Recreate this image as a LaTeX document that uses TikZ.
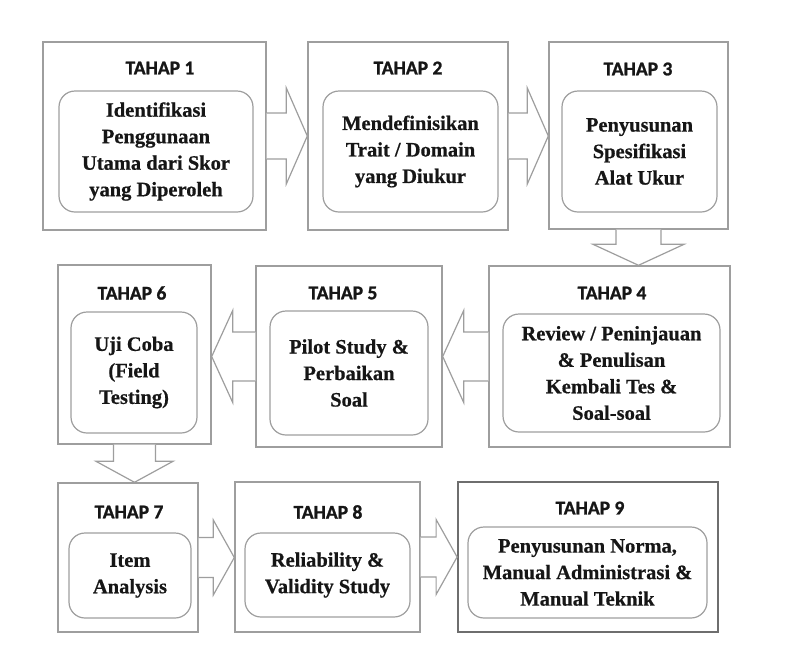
\documentclass[tikz,border=0pt]{standalone}
\usepackage{fontspec}
\setmainfont{Liberation Serif}[BoldFeatures={FakeBold=0.6}]
\newfontfamily\tahapfont{Carlito}[BoldFeatures={FakeBold=1.2}]
\usepackage{tikz}
\usetikzlibrary{calc}
\usepackage{xcolor}
\definecolor{linegray}{HTML}{9E9E9E}
\definecolor{framegray}{HTML}{6E6E6E}
\definecolor{inkblack}{HTML}{161616}

% block arrows between stages: from, to, shaft half-width, head half-width
\newcommand{\arrowright}[4]{%
  \draw[blockarrow] ($(#1.east)+(0,-#3)$) -- ($(#1.east -| #2.west)+(-21,-#3)$)
    -- ($(#1.east -| #2.west)+(-21,-#4)$) -- (#1.east -| #2.west)
    -- ($(#1.east -| #2.west)+(-21,#4)$) -- ($(#1.east -| #2.west)+(-21,#3)$)
    -- ($(#1.east)+(0,#3)$);}
\newcommand{\arrowleft}[4]{%
  \draw[blockarrow] ($(#1.west)+(0,-#3)$) -- ($(#1.west -| #2.east)+(21,-#3)$)
    -- ($(#1.west -| #2.east)+(21,-#4)$) -- (#1.west -| #2.east)
    -- ($(#1.west -| #2.east)+(21,#4)$) -- ($(#1.west -| #2.east)+(21,#3)$)
    -- ($(#1.west)+(0,#3)$);}
\newcommand{\arrowdown}[4]{%
  \draw[blockarrow] ($(#1.south)+(-#3,0)$) -- ($(#1.south |- #2.north)+(-#3,-21)$)
    -- ($(#1.south |- #2.north)+(-#4,-21)$) -- (#1.south |- #2.north)
    -- ($(#1.south |- #2.north)+(#4,-21)$) -- ($(#1.south |- #2.north)+(#3,-21)$)
    -- ($(#1.south)+(#3,0)$);}

\begin{document}
\begin{tikzpicture}[x=1pt, y=-1pt,
    stagebox/.style={draw=linegray, line width=1.4pt, inner sep=0pt},
    stepcard/.style={draw=linegray, line width=1.2pt, rounded corners=16pt, inner sep=0pt,
      align=center, text=inkblack, font=\bfseries\fontsize{20.5}{26.5}\selectfont},
    tahap/.style={text=inkblack, inner sep=0pt, font=\tahapfont\bfseries\fontsize{19.5}{21}\selectfont},
    blockarrow/.style={draw=linegray, line width=1.2pt, fill=white, line join=miter}]
    \useasboundingbox (0,0) rectangle (790,657);
    % Outer stage boxes
    \node [stagebox, minimum width=223pt, minimum height=188pt] (s1) at (154.5,136) {};
    \node [stagebox, minimum width=200pt, minimum height=188pt] (s2) at (408,136) {};
    \node [stagebox, minimum width=179pt, minimum height=187pt] (s3) at (638.5,135.5) {};
    \node [stagebox, minimum width=241pt, minimum height=181pt] (s4) at (609.5,356.5) {};
    \node [stagebox, minimum width=186pt, minimum height=181pt] (s5) at (349,356.5) {};
    \node [stagebox, minimum width=153pt, minimum height=179pt] (s6) at (134.5,354.5) {};
    \node [stagebox, minimum width=140pt, minimum height=149pt] (s7) at (128,557.5) {};
    \node [stagebox, minimum width=185pt, minimum height=150pt] (s8) at (327.5,557) {};
    \node [stagebox, draw=framegray, line width=1.8pt, minimum width=260pt, minimum height=150pt] (s9) at (588,557) {};
    % Titles
    \node [tahap] (t1) at (160,68) {TAHAP 1};
    \node [tahap] (t2) at (408,68) {TAHAP 2};
    \node [tahap] (t3) at (638,69) {TAHAP 3};
    \node [tahap] (t4) at (612,293) {TAHAP 4};
    \node [tahap] (t5) at (343,293) {TAHAP 5};
    \node [tahap] (t6) at (132,293) {TAHAP 6};
    \node [tahap] (t7) at (129,512) {TAHAP 7};
    \node [tahap] (t8) at (328,512) {TAHAP 8};
    \node [tahap] (t9) at (590,508) {TAHAP 9};
    % Rounded cards
    \node [stepcard, minimum width=194pt, minimum height=121pt] (c1) at (156,151.5)
        {Identifikasi\\Penggunaan\\Utama dari Skor\\yang Diperoleh};
    \node [stepcard, minimum width=175pt, minimum height=121pt] (c2) at (410.5,151.5)
        {Mendefinisikan\\Trait / Domain\\yang Diukur};
    \node [stepcard, minimum width=155pt, minimum height=121pt] (c3) at (639.5,151.5)
        {Penyusunan\\Spesifikasi\\Alat Ukur};
    \node [stepcard, minimum width=217pt, minimum height=118pt] (c4) at (611.5,373)
        {Review / Peninjauan\\\& Penulisan\\Kembali Tes \&\\Soal-soal};
    \node [stepcard, minimum width=158pt, minimum height=124pt] (c5) at (349,373)
        {Pilot Study \&\\Perbaikan\\Soal};
    \node [stepcard, minimum width=126pt, minimum height=121pt] (c6) at (134,372.5)
        {Uji Coba\\(Field\\Testing)};
    \node [stepcard, minimum width=122pt, minimum height=85pt] (c7) at (130,575.5)
        {Item\\Analysis};
    \node [stepcard, minimum width=165pt, minimum height=84pt] (c8) at (327.5,575)
        {Reliability \&\\Validity Study};
    \node [stepcard, minimum width=239pt, minimum height=91pt] (c9) at (587.5,572.5)
        {Penyusunan Norma,\\Manual Administrasi \&\\Manual Teknik};
    % Arrows
    \arrowright{s1}{s2}{23}{48}
    \arrowright{s2}{s3}{23}{48}
    \arrowdown{s3}{s4}{22.5}{45.5}
    \arrowleft{s4}{s5}{24.5}{46}
    \arrowleft{s5}{s6}{24.5}{46}
    \arrowdown{s6}{s7}{21}{38.5}
    \arrowright{s7}{s8}{20}{37.5}
    \arrowright{s8}{s9}{20}{37.5}
\end{tikzpicture}
\end{document}
